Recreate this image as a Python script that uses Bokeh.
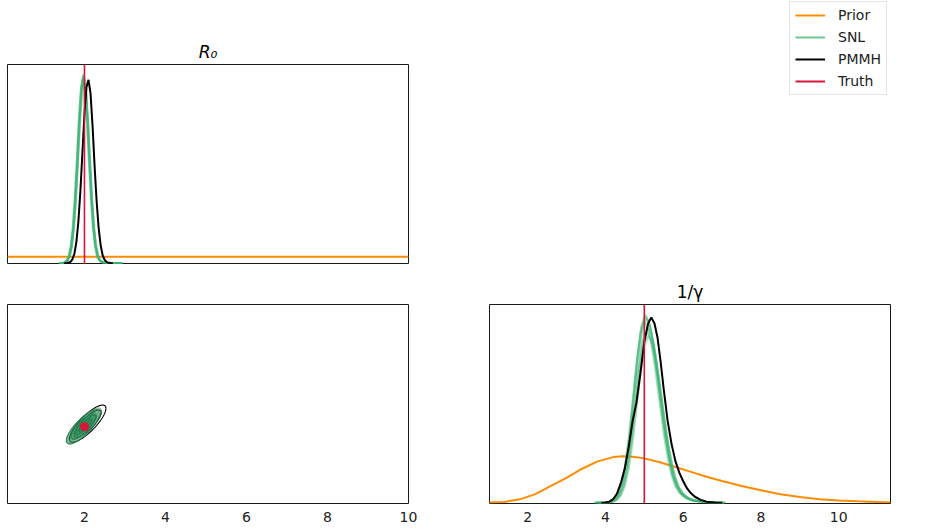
import numpy as np
from bokeh.plotting import figure
from bokeh.layouts import column, row
from bokeh.models import Range1d, FixedTicker, Span, Legend, LegendItem, Title
from bokeh.embed import file_html
from bokeh.resources import INLINE

# ---------------- data ----------------
truth_r0 = 2.0
truth_g = 5.0
r0_limits = [0.1, 10.0]
g_limits = [1.02, 11.33]
tick_values = [2, 4, 6, 8, 10]

# prior densities
prior_r0_x = [0.1, 10.0]
prior_r0_y = [0.101, 0.101]
prior_g_x = [1.0, 1.4, 1.8, 2.2, 2.6, 3.0, 3.4, 3.8, 4.2, 4.45, 4.7, 5.0, 5.4,
             5.8, 6.2, 6.6, 7.0, 7.5, 8.0, 8.5, 9.0, 9.5, 10.0, 10.5, 11.0, 11.33]
prior_g_y = [0.002, 0.006, 0.024, 0.060, 0.117, 0.173, 0.237, 0.288, 0.318, 0.324,
             0.321, 0.309, 0.282, 0.249, 0.215, 0.181, 0.151, 0.117, 0.087, 0.060,
             0.041, 0.025, 0.016, 0.010, 0.006, 0.004]

# PMMH marginals
pmmh_r0_x = [1.5, 1.55, 1.6, 1.65, 1.7, 1.75, 1.8, 1.85, 1.9, 1.95, 2.0, 2.05, 2.1,
             2.15, 2.2, 2.25, 2.3, 2.35, 2.4, 2.45, 2.5, 2.55, 2.6, 2.65, 2.7]
pmmh_r0_y = [0.0, 0.001, 0.006, 0.019, 0.056, 0.144, 0.33, 0.65, 1.13, 1.73, 2.33,
             2.75, 2.86, 2.65, 2.14, 1.52, 0.97, 0.55, 0.28, 0.12, 0.05, 0.018,
             0.006, 0.002, 0.0]
pmmh_g_x = [3.9, 4.0, 4.1, 4.2, 4.3, 4.4, 4.5, 4.6, 4.7, 4.8, 4.9, 5.0, 5.1, 5.18,
            5.26, 5.34, 5.42, 5.5, 5.6, 5.7, 5.8, 5.9, 6.0, 6.1, 6.2, 6.3, 6.45,
            6.6, 6.8, 7.0]
pmmh_g_y = [0.0, 0.002, 0.008, 0.025, 0.065, 0.14, 0.24, 0.39, 0.57, 0.70, 0.90,
            1.12, 1.25, 1.29, 1.25, 1.15, 0.98, 0.79, 0.57, 0.41, 0.29, 0.21, 0.15,
            0.10, 0.066, 0.042, 0.02, 0.008, 0.002, 0.0]

# SNL ensemble marginals: common profile, per-run peak and height
snl_r0_offsets = [-0.60, -0.55, -0.50, -0.45, -0.40, -0.35, -0.30, -0.25, -0.20,
                  -0.15, -0.10, -0.05, 0.0, 0.05, 0.10, 0.15, 0.20, 0.25, 0.30,
                  0.35, 0.40, 0.45, 0.50, 0.55, 0.60, 0.70, 0.80, 0.95]
snl_r0_profile = [0.0, 0.0005, 0.0013, 0.0045, 0.0141, 0.0383, 0.091, 0.189,
                  0.3445, 0.549, 0.766, 0.9356, 1.0, 0.9356, 0.766, 0.549, 0.3445,
                  0.189, 0.091, 0.039, 0.016, 0.007, 0.004, 0.003, 0.002, 0.001,
                  0.0005, 0.0]
snl_r0_peaks = [1.97, 1.98, 1.96, 1.99, 1.98]
snl_r0_heights = [2.93, 2.90, 2.88, 2.85, 2.95]

snl_g_offsets = [-1.3, -1.2, -1.1, -1.0, -0.9, -0.8, -0.7, -0.6, -0.5, -0.4, -0.3,
                 -0.2, -0.1, 0.0, 0.1, 0.2, 0.3, 0.4, 0.5, 0.6, 0.7, 0.8, 0.9, 1.0,
                 1.1, 1.2, 1.4, 1.6, 1.8, 2.0]
snl_g_profile = [0.0, 0.0003, 0.0008, 0.002, 0.0057, 0.0169, 0.0439, 0.1007, 0.203,
                 0.360, 0.563, 0.775, 0.938, 1.0, 0.962, 0.857, 0.707, 0.539, 0.381,
                 0.249, 0.151, 0.090, 0.055, 0.035, 0.022, 0.014, 0.007, 0.003,
                 0.001, 0.0]
snl_g_peaks = [5.02, 5.05, 5.00, 5.08, 5.06, 5.10, 5.03]
snl_g_heights = [1.31, 1.28, 1.26, 1.22, 1.19, 1.16, 1.30]

# joint posterior summaries (contour panel)
snl_joint_r0 = [1.97, 1.99, 1.96]
snl_joint_g = [5.00, 5.04, 4.98]
snl_joint_sd_r0 = [0.14, 0.145, 0.135]
snl_joint_sd_g = [0.30, 0.31, 0.29]
snl_joint_rho = [0.80, 0.82, 0.79]
pmmh_joint_r0 = [2.08]
pmmh_joint_g = [5.16]
pmmh_joint_sd_r0 = [0.15]
pmmh_joint_sd_g = [0.32]
pmmh_joint_rho = [0.82]
contour_levels = [3.0, 2.2, 1.4, 0.7]

labels = ["Prior", "SNL", "PMMH", "Truth"]

# ---------------- style ----------------
PRIOR = "#ff8c00"
SNL = "#3cb371"
SNL_DARK = "#1f7a48"
PMMH = "#000000"
TRUTH = "#dc143c"
FONT = "DejaVu Sans"
FRAME = "#1a1a1a"


def make_fig(width, height, xr, yr, left, top, bottom, right, xaxis):
    p = figure(width=width, height=height, x_range=Range1d(*xr), y_range=Range1d(*yr),
               output_backend="svg", toolbar_location=None,
               x_axis_location="below" if xaxis else None, y_axis_location=None,
               min_border_left=left, min_border_right=right,
               min_border_top=top, min_border_bottom=bottom)
    p.grid.visible = False
    p.outline_line_color = FRAME
    p.outline_line_width = 1
    p.background_fill_color = "white"
    p.border_fill_color = "white"
    if xaxis:
        ax = p.xaxis[0]
        ax.ticker = FixedTicker(ticks=tick_values)
        ax.axis_line_color = None
        ax.major_tick_line_color = None
        ax.minor_tick_line_color = None
        ax.major_label_standoff = 2
        ax.major_label_text_font = FONT
        ax.major_label_text_font_size = "14px"
        ax.major_label_text_color = "#222222"
    return p


def add_title(p, text, style):
    t = Title(text=text, align="center", text_font=FONT, text_font_size="17px",
              text_font_style=style, text_color="black", standoff=5)
    p.add_layout(t, "above")


def ellipse(cx, cy, sx, sy, rho, k):
    t = np.linspace(0, 2 * np.pi, 120)
    a, b = np.cos(t), np.sin(t)
    xs = cx + k * sx * a
    ys = cy + k * sy * (rho * a + np.sqrt(1 - rho ** 2) * b)
    return list(xs), list(ys)


# ---------------- top-left: R0 marginal ----------------
p_r0 = make_fig(489, 264, r0_limits, (-0.02, 3.1), 7, 64, 0, 81, False)
add_title(p_r0, "R₀", "italic")
p_r0.line(prior_r0_x, prior_r0_y, color=PRIOR, line_width=2)
p_r0.multi_line([[c + d for d in snl_r0_offsets] for c in snl_r0_peaks],
                [[h * v for v in snl_r0_profile] for h in snl_r0_heights],
                color=SNL, line_width=2.2, line_alpha=0.5)
p_r0.line(pmmh_r0_x, pmmh_r0_y, color=PMMH, line_width=2)
p_r0.add_layout(Span(location=truth_r0, dimension="height", line_color=TRUTH, line_width=1.6))

# ---------------- legend holder (top-right) ----------------
p_leg = figure(width=441, height=264, x_range=Range1d(0, 1), y_range=Range1d(0, 1),
               output_backend="svg", toolbar_location=None,
               x_axis_location=None, y_axis_location=None, min_border=0)
p_leg.grid.visible = False
p_leg.outline_line_color = None
leg_colors = [PRIOR, SNL, PMMH, TRUTH]
leg_alpha = [1.0, 0.75, 1.0, 1.0]
items = []
for lab, col, al in zip(labels, leg_colors, leg_alpha):
    r = p_leg.line(x=[np.nan], y=[np.nan], color=col, line_width=2, line_alpha=al)
    items.append(LegendItem(label=lab, renderers=[r]))
legend = Legend(items=items, location=(300, 169), margin=0, padding=5, spacing=6,
                glyph_width=30, glyph_height=16, label_height=16, label_standoff=13,
                label_text_font=FONT, label_text_font_size="14px",
                label_text_color="#222222", border_line_color="#cccccc",
                border_line_width=1, background_fill_alpha=0.8)
p_leg.add_layout(legend)

# ---------------- bottom-left: joint contours ----------------
p_joint = make_fig(489, 268, r0_limits, g_limits, 7, 40, 29, 81, True)
for cx, cy, sx, sy, rho in zip(pmmh_joint_r0, pmmh_joint_g, pmmh_joint_sd_r0,
                               pmmh_joint_sd_g, pmmh_joint_rho):
    for k in contour_levels:
        ex, ey = ellipse(cx, cy, sx, sy, rho, k)
        p_joint.line(ex, ey, color=PMMH, line_width=1.1)
for cx, cy, sx, sy, rho in zip(snl_joint_r0, snl_joint_g, snl_joint_sd_r0,
                               snl_joint_sd_g, snl_joint_rho):
    for k in contour_levels:
        ex, ey = ellipse(cx, cy, sx, sy, rho, k)
        p_joint.patch(ex, ey, fill_color="#2e8b57", fill_alpha=0.28,
                      line_color=SNL_DARK, line_alpha=0.7, line_width=0.8)
p_joint.scatter([truth_r0], [truth_g], size=8, color=TRUTH)

# ---------------- bottom-right: 1/gamma marginal ----------------
p_g = make_fig(441, 268, g_limits, (-0.005, 1.38), 0, 40, 29, 40, True)
add_title(p_g, "1/γ", "normal")
p_g.line(prior_g_x, prior_g_y, color=PRIOR, line_width=2)
p_g.multi_line([[c + d for d in snl_g_offsets] for c in snl_g_peaks],
               [[h * v for v in snl_g_profile] for h in snl_g_heights],
               color=SNL, line_width=2, line_alpha=0.45)
p_g.line(pmmh_g_x, pmmh_g_y, color=PMMH, line_width=2)
p_g.add_layout(Span(location=truth_g, dimension="height", line_color=TRUTH, line_width=1.6))

layout = row(column(p_r0, p_joint), column(p_leg, p_g))

open("out.html", "w").write(file_html(layout, INLINE))
